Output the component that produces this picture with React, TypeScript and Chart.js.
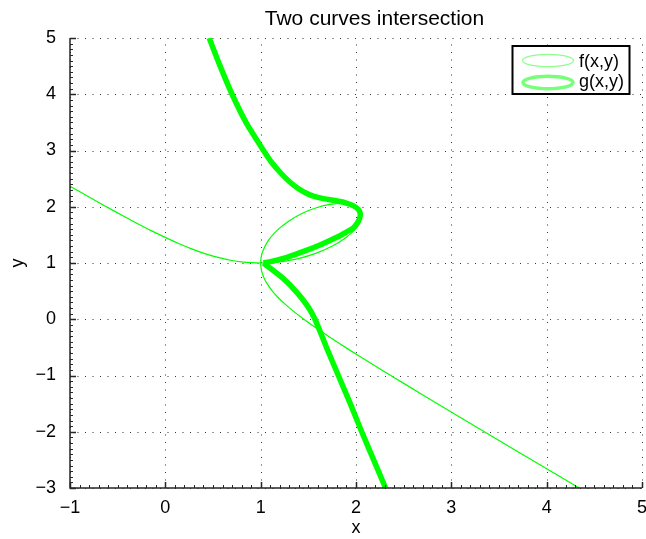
import React, { useEffect, useRef } from "react";
import { Chart, registerables } from "chart.js";

Chart.register(...registerables);

// ---- data ----
const titleText = "Two curves intersection";
const xLabel = "x";
const yLabel = "y";
const legendLabels = ["f(x,y)", "g(x,y)"];
const xTicks = [-1, 0, 1, 2, 3, 4, 5];
const yTicks = [-3, -2, -1, 0, 1, 2, 3, 4, 5];

// f(x,y) = 0 : thin curve (folium-like, node at (1,1))
const fX = [
  -1, -0.792, -0.531, -0.32, -0.143, 0.01, 0.145, 0.269, 0.383, 0.492, 0.597, 0.699, 0.8, 0.9, 1,
  1.1, 1.2, 1.397, 1.584, 1.752, 1.889, 1.987, 2.042, 2.058, 2.041, 2.0, 1.937, 1.847, 1.73, 1.592,
  1.444, 1.301, 1.175, 1.079, 1.02, 1.005, 1,
  1.005, 1.02, 1.045, 1.081, 1.127, 1.185, 1.256, 1.342, 1.446, 1.571, 1.726, 1.918, 2.165, 2.365,
  2.492, 2.946, 3.623, 4.218, 4.34,
];
const fY = [
  2.365, 2.165, 1.918, 1.726, 1.571, 1.446, 1.342, 1.256, 1.185, 1.127, 1.081, 1.045, 1.02, 1.005, 1,
  1.005, 1.02, 1.079, 1.175, 1.301, 1.444, 1.592, 1.73, 1.847, 1.937, 2.0, 2.041, 2.058, 2.042, 1.987,
  1.889, 1.752, 1.584, 1.397, 1.2, 1.1, 1,
  0.9, 0.8, 0.699, 0.597, 0.492, 0.383, 0.269, 0.145, 0.01, -0.143, -0.32, -0.531, -0.792, -1.0,
  -1.131, -1.595, -2.279, -2.877, -3,
];

// g(x,y) = 0 : thick curve, upper part down to the cusp at (1,1)
const gUpperX = [
  0.46, 0.575, 0.7, 0.846, 1.03, 1.11, 1.21, 1.3, 1.39, 1.48, 1.57, 1.67, 1.78, 1.89, 1.97,
  2.025, 2.045, 2.035, 2.01, 1.97, 1.9, 1.815, 1.64, 1.465, 1.29, 1.115, 1.03,
];
const gUpperY = [
  5, 4.5, 4, 3.5, 3.0, 2.8, 2.6, 2.45, 2.33, 2.24, 2.18, 2.14, 2.11, 2.07, 2.02,
  1.95, 1.87, 1.78, 1.7, 1.62, 1.55, 1.47, 1.335, 1.215, 1.11, 1.03, 1.0,
];
// thick curve, lower part from the cusp
const gLowerX = [1.03, 1.233, 1.384, 1.496, 1.57, 1.69, 1.815, 1.94, 2.06, 2.185, 2.31];
const gLowerY = [1.0, 0.731, 0.47, 0.225, 0, -0.5, -1, -1.5, -2, -2.5, -3];

const GREEN = "rgb(0,255,0)";
const FONT = '"Liberation Sans", Arial, Helvetica, sans-serif';

function pts(xs: number[], ys: number[]) {
  return xs.map((x, i) => ({ x, y: ys[i] }));
}

function fmt(v: number) {
  return String(v).replace("-", "\u2212");
}

export default function App() {
  const ref = useRef<HTMLCanvasElement>(null);

  useEffect(() => {
    if (!ref.current) return;

    const decor = {
      id: "decor",
      beforeDatasetsDraw(chart: any) {
        const { ctx, chartArea: a, scales } = chart;
        const xs = scales.x;
        const ys = scales.y;
        ctx.save();
        ctx.strokeStyle = "rgba(0,0,0,0.8)";
        ctx.lineWidth = 1;
        ctx.setLineDash([1, 6.5]);
        for (const t of xTicks) {
          const p = Math.round(xs.getPixelForValue(t)) + 0.5;
          ctx.beginPath();
          ctx.moveTo(p, a.bottom);
          ctx.lineTo(p, a.top);
          ctx.stroke();
        }
        for (const t of yTicks) {
          const p = Math.round(ys.getPixelForValue(t)) + 0.5;
          ctx.beginPath();
          ctx.moveTo(a.left, p);
          ctx.lineTo(a.right, p);
          ctx.stroke();
        }
        ctx.restore();
      },
      afterDraw(chart: any) {
        const { ctx, chartArea: a, scales } = chart;
        const xs = scales.x;
        const ys = scales.y;
        ctx.save();
        ctx.setLineDash([]);
        // axes lines
        ctx.strokeStyle = "#262626";
        ctx.lineWidth = 1.5;
        ctx.beginPath();
        ctx.moveTo(a.left, a.top);
        ctx.lineTo(a.left, a.bottom);
        ctx.lineTo(a.right, a.bottom);
        ctx.stroke();
        // minor ticks
        ctx.lineWidth = 1;
        ctx.beginPath();
        for (let i = -10; i <= 50; i++) {
          const p = Math.round(xs.getPixelForValue(i / 10)) + 0.5;
          ctx.moveTo(p, a.bottom);
          ctx.lineTo(p, a.bottom - 3);
        }
        for (let i = -30; i <= 50; i++) {
          const p = Math.round(ys.getPixelForValue(i / 10)) + 0.5;
          ctx.moveTo(a.left, p);
          ctx.lineTo(a.left + 3, p);
        }
        ctx.stroke();
        // major ticks
        ctx.lineWidth = 1.5;
        ctx.beginPath();
        for (const t of xTicks) {
          const p = Math.round(xs.getPixelForValue(t)) + 0.5;
          ctx.moveTo(p, a.bottom);
          ctx.lineTo(p, a.bottom - 6);
        }
        for (const t of yTicks) {
          const p = Math.round(ys.getPixelForValue(t)) + 0.5;
          ctx.moveTo(a.left, p);
          ctx.lineTo(a.left + 6, p);
        }
        ctx.stroke();

        // tick labels
        ctx.fillStyle = "#000";
        ctx.font = `18px ${FONT}`;
        ctx.textAlign = "center";
        ctx.textBaseline = "middle";
        for (const t of xTicks) {
          ctx.fillText(fmt(t), xs.getPixelForValue(t), a.bottom + 20);
        }
        ctx.textAlign = "right";
        for (const t of yTicks) {
          ctx.fillText(fmt(t), a.left - 14, ys.getPixelForValue(t));
        }
        // axis titles
        ctx.textAlign = "center";
        ctx.fillText(xLabel, (a.left + a.right) / 2, a.bottom + 40);
        ctx.save();
        ctx.translate(18, (a.top + a.bottom) / 2);
        ctx.rotate(-Math.PI / 2);
        ctx.fillText(yLabel, 0, 0);
        ctx.restore();
        // title
        ctx.font = `21px ${FONT}`;
        ctx.textAlign = "center";
        ctx.textBaseline = "alphabetic";
        ctx.fillText(titleText, 374.5, 25);

        // legend
        const lx = 512.5, ly = 46, lw = 117, lh = 48;
        ctx.fillStyle = "#fff";
        ctx.fillRect(lx, ly, lw, lh);
        ctx.strokeStyle = "#000";
        ctx.lineWidth = 2;
        ctx.strokeRect(lx, ly, lw, lh);
        ctx.strokeStyle = "rgb(140,255,140)";
        ctx.lineWidth = 1.2;
        ctx.beginPath();
        ctx.ellipse(548, 60.5, 25.5, 6.2, 0, 0, Math.PI * 2);
        ctx.stroke();
        ctx.strokeStyle = "rgb(120,255,120)";
        ctx.lineWidth = 3.5;
        ctx.beginPath();
        ctx.ellipse(548, 82.5, 25, 6.2, 0, 0, Math.PI * 2);
        ctx.stroke();
        ctx.fillStyle = "#000";
        ctx.font = `18px ${FONT}`;
        ctx.textAlign = "left";
        ctx.textBaseline = "alphabetic";
        ctx.fillText(legendLabels[0], 579, 66.5);
        ctx.fillText(legendLabels[1], 579, 87);
        ctx.restore();
      },
    };

    const chart = new Chart(ref.current, {
      type: "scatter",
      data: {
        datasets: [
          {
            label: legendLabels[0],
            data: pts(fX, fY),
            showLine: true,
            borderColor: GREEN,
            borderWidth: 1.2,
            pointRadius: 0,
            tension: 0.3,
            order: 1,
          },
          {
            label: legendLabels[1],
            data: pts(gUpperX, gUpperY),
            showLine: true,
            borderColor: GREEN,
            borderWidth: 5.5,
            pointRadius: 0,
            tension: 0.25,
            borderJoinStyle: "round",
            order: 2,
          },
          {
            label: legendLabels[1] + " ",
            data: pts(gLowerX, gLowerY),
            showLine: true,
            borderColor: GREEN,
            borderWidth: 5.5,
            pointRadius: 0,
            tension: 0.3,
            borderJoinStyle: "round",
            order: 2,
          },
        ],
      },
      options: {
        animation: false,
        responsive: true,
        maintainAspectRatio: false,
        layout: { padding: { top: 38, right: 4, left: 0, bottom: 0 } },
        plugins: {
          legend: { display: false },
          title: { display: false },
          tooltip: { enabled: false },
        },
        scales: {
          x: {
            type: "linear",
            min: -1,
            max: 5,
            grid: { display: false },
            border: { display: false },
            ticks: { display: false },
            afterFit: (s: any) => {
              s.height = 51;
            },
          },
          y: {
            type: "linear",
            min: -3,
            max: 5,
            grid: { display: false },
            border: { display: false },
            ticks: { display: false },
            afterFit: (s: any) => {
              s.width = 70;
            },
          },
        },
      },
      plugins: [decor],
    });

    return () => chart.destroy();
  }, []);

  return (
    <div style={{ position: "absolute", left: 0, top: 0, width: 646, height: 539, background: "#fff" }}>
      <canvas ref={ref} />
    </div>
  );
}
